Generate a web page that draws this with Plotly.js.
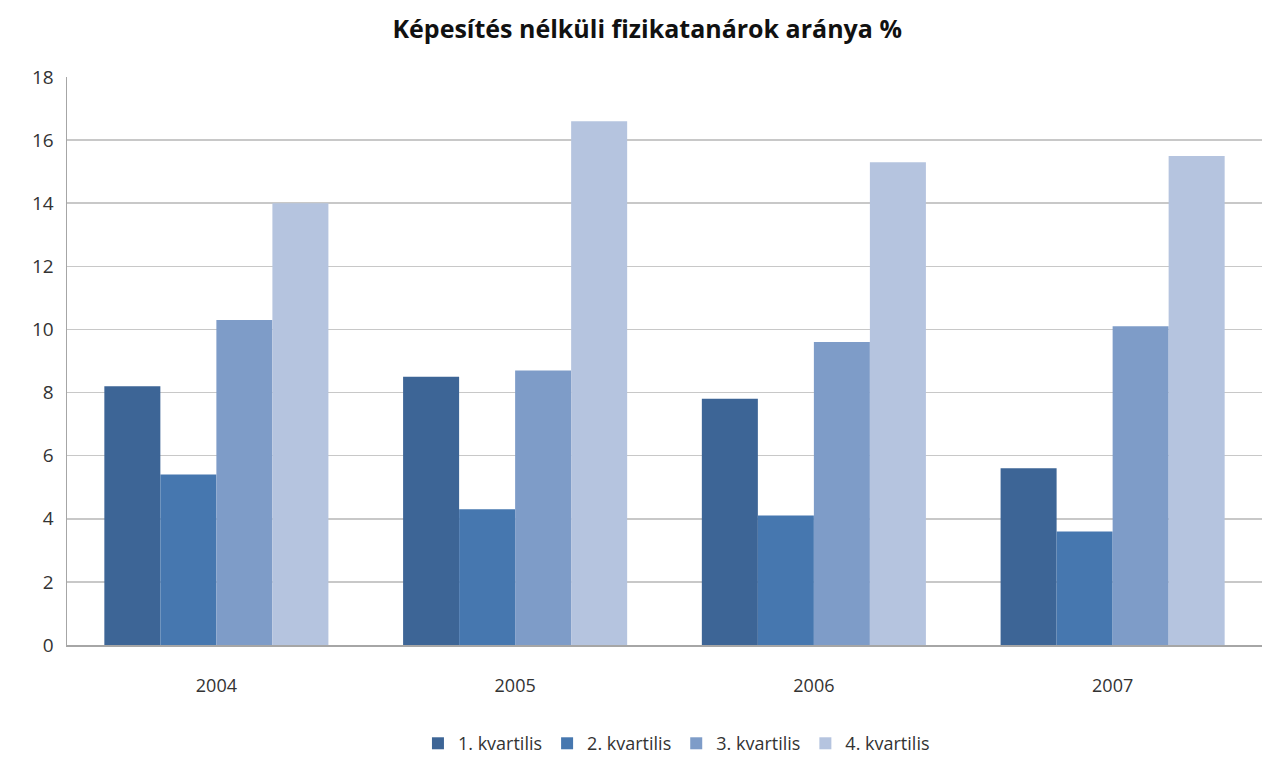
<!DOCTYPE html>
<html><head><meta charset="utf-8">
<script src="https://cdn.plot.ly/plotly-3.0.1.min.js"></script>
<style>body{margin:0;padding:0;background:#fff}#c{width:1274px;height:765px}</style>
</head><body><div id="c"></div>
<script>
const years = ['2004', '2005', '2006', '2007'];
const seriesNames = ['1. kvartilis', '2. kvartilis', '3. kvartilis', '4. kvartilis'];
const q1 = [8.2, 8.5, 7.8, 5.6];
const q2 = [5.4, 4.3, 4.1, 3.6];
const q3 = [10.3, 8.7, 9.6, 10.1];
const q4 = [14.0, 16.6, 15.3, 15.5];
const colors = ['#3D6596', '#4677AF', '#7E9CC8', '#B5C4DF'];
const values = [q1, q2, q3, q4];
const font = 'Open Sans, Liberation Sans, sans-serif';
const traces = values.map((v, i) => ({
  type: 'bar', x: years, y: v, name: seriesNames[i],
  marker: {color: colors[i]}, hoverinfo: 'y'
}));
const layout = {
  width: 1274, height: 765,
  margin: {l: 67, r: 12, t: 77, b: 120},
  paper_bgcolor: '#fff', plot_bgcolor: '#fff',
  title: {text: '<b>Képesítés nélküli fizikatanárok aránya %</b>', x: 0.508, xanchor: 'center', y: 0.962, yanchor: 'middle',
          font: {family: font, size: 25, color: '#111'}},
  barmode: 'group', bargap: 0.25, bargroupgap: 0,
  xaxis: {showline: true, linecolor: '#A6A6A6', linewidth: 1.5, tickfont: {family: font, size: 18, color: '#333'},
          ticks: 'outside', ticklen: 24, tickcolor: 'rgba(0,0,0,0)', showgrid: false, fixedrange: true},
  yaxis: {range: [0, 18], dtick: 2, showline: true, linecolor: '#A6A6A6', linewidth: 1.5,
          gridcolor: '#C8C8C8', gridwidth: 1.5, tickfont: {family: font, size: 19, color: '#333'},
          ticks: 'outside', ticklen: 8, tickcolor: 'rgba(0,0,0,0)', zeroline: false, fixedrange: true},
  legend: {orientation: 'h', x: 0.51, xanchor: 'center', yref: 'container', y: 0.028, yanchor: 'middle',
           font: {family: font, size: 18, color: '#333'}, itemwidth: 20, traceorder: 'normal'},
  showlegend: true
};
Plotly.newPlot('c', traces, layout, {displayModeBar: false, staticPlot: true});
</script></body></html>
